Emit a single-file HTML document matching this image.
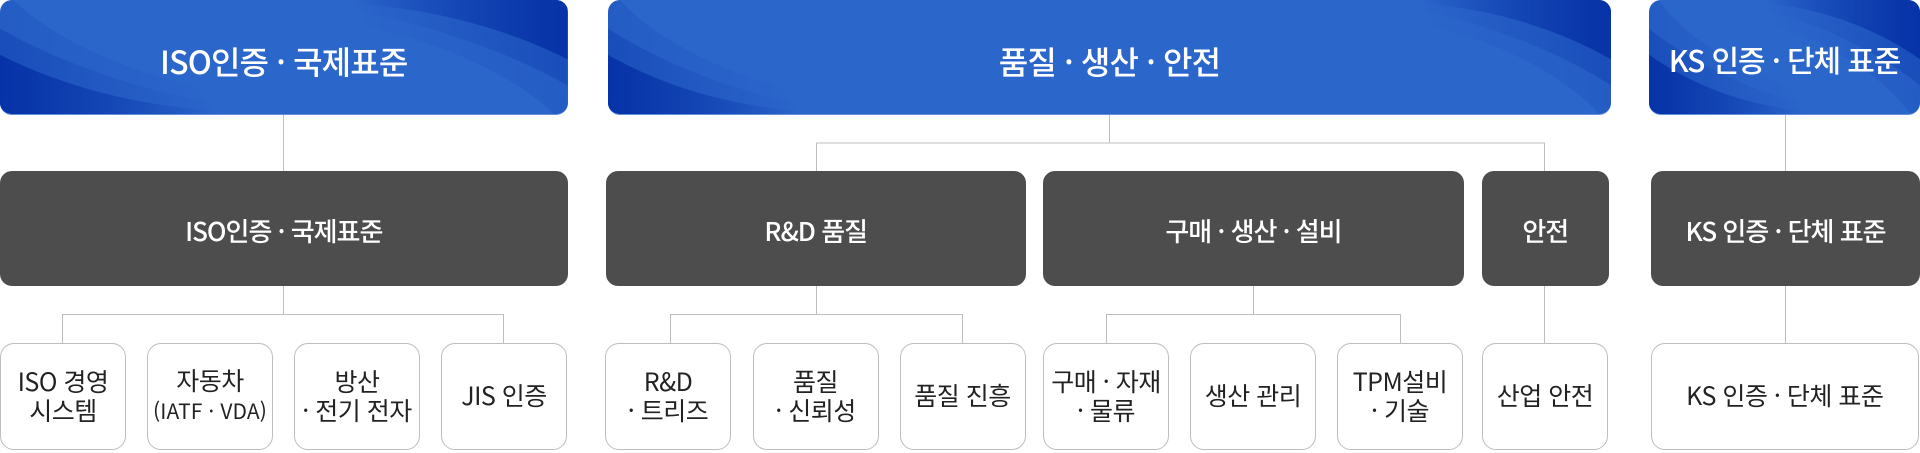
<!DOCTYPE html>
<html lang="ko"><head><meta charset="utf-8"><style>
html,body{margin:0;padding:0;background:#fff;width:1920px;height:453px;overflow:hidden}
body{position:relative;font-family:"Noto Sans CJK KR","Liberation Sans",sans-serif}
.a{position:absolute;box-sizing:border-box;display:flex;align-items:center;justify-content:center;text-align:center;white-space:nowrap}
.t{color:#fff;font-size:32px;font-weight:500;letter-spacing:-.85px;top:0;height:115px;padding-top:7px;border-radius:12px;overflow:hidden;background:#2b66cb;border-bottom:1px solid #5f8fdc}
.t svg{position:absolute;left:0;top:0;width:100%;height:100%}
.t span{position:relative}
.d{color:#fff;background:#4d4d4d;top:171px;height:115px;border-radius:12px;font-size:26px;font-weight:500;letter-spacing:-1px;padding-top:4px}
.l{background:#fff;border:1px solid #bdbdbd;top:342.5px;height:107px;border-radius:14px;font-size:25px;line-height:29px;color:#222;letter-spacing:-.5px;padding-bottom:1px}
.l small{font-size:21px;letter-spacing:.1px}
svg.c{position:absolute;left:0;top:0}
</style></head><body>
<svg width="0" height="0" style="position:absolute"><defs>
<linearGradient id="ga" gradientUnits="userSpaceOnUse" x1="0" x2="38" y1="0" y2="0"><stop offset="0" stop-color="#0430a5" stop-opacity=".18"/><stop offset="1" stop-color="#0430a5" stop-opacity="0"/></linearGradient>
<linearGradient id="gb" gradientUnits="userSpaceOnUse" x1="0" x2="38" y1="0" y2="0"><stop offset="0" stop-color="#0430a5" stop-opacity=".32"/><stop offset="1" stop-color="#0430a5" stop-opacity="0"/></linearGradient>
<linearGradient id="gc" gradientUnits="userSpaceOnUse" x1="0" x2="38" y1="0" y2="0"><stop offset="0" stop-color="#0430a5" stop-opacity=".9"/><stop offset="1" stop-color="#0430a5" stop-opacity="0"/></linearGradient>
<g id="L">
<path d="M2.4 0C8 28 20 60 35 76S55 90 62 100H0V0Z" fill="url(#ga)"/>
<path d="M0 25C8 48 20 72 34 87S50 98 58 100H0Z" fill="url(#gb)"/>
<path d="M0 48C8 68 18 85 30 93S42 99 50 100H0Z" fill="url(#gc)"/>
</g>
</defs></svg>

<svg class="c" width="1920" height="453" fill="none" stroke="#bdbdbd" stroke-width="1">
<path d="M283.5 115V171M283.5 286V314.5M62.5 343V314.5H503.5V343"/>
<path d="M1109.5 115V143M816.5 171V143H1544.5V171"/>
<path d="M816.5 286V314.5M670.5 343V314.5H962.5V343"/>
<path d="M1253.5 286V314.5M1106.5 343V314.5H1400.5V343"/>
<path d="M1544.5 286V343"/>
<path d="M1785.5 115V171M1785.5 286V343"/>
</svg>

<div class="a t" style="left:0;width:567.5px"><svg viewBox="0 0 100 100" preserveAspectRatio="none"><use href="#L"/><use href="#L" transform="translate(100 100) rotate(180)"/></svg><span>ISO인증 · 국제표준</span></div>
<div class="a t" style="left:608px;width:1003px"><svg viewBox="0 0 100 100" preserveAspectRatio="none"><use href="#L" transform="scale(.5 1)"/><use href="#L" transform="translate(100 100) rotate(180) scale(.5 1)"/></svg><span>품질 · 생산 · 안전</span></div>
<div class="a t" style="left:1649px;width:271px;font-size:30px;padding-top:4px;letter-spacing:-1.1px"><svg viewBox="0 0 100 100" preserveAspectRatio="none"><use href="#L" transform="scale(1.5 1)"/><use href="#L" transform="translate(100 100) rotate(180) scale(1.5 1)"/></svg><span>KS 인증 · 단체 표준</span></div>

<div class="a d" style="left:0;width:567.5px">ISO인증 · 국제표준</div>
<div class="a d" style="left:605.5px;width:420.5px">R&amp;D 품질</div>
<div class="a d" style="left:1043px;width:421px">구매 · 생산 · 설비</div>
<div class="a d" style="left:1482px;width:126.5px">안전</div>
<div class="a d" style="left:1651px;width:269px">KS 인증 · 단체 표준</div>

<div class="a l" style="left:0;width:126px">ISO 경영<br>시스템</div>
<div class="a l" style="left:147px;width:126px"><span>자동차<br><small>(IATF · VDA)</small></span></div>
<div class="a l" style="left:294px;width:126px">방산<br>· 전기 전자</div>
<div class="a l" style="left:441px;width:126px">JIS 인증</div>
<div class="a l" style="left:605px;width:126px">R&amp;D<br>· 트리즈</div>
<div class="a l" style="left:752.5px;width:126px">품질<br>· 신뢰성</div>
<div class="a l" style="left:899.5px;width:126px">품질 진흥</div>
<div class="a l" style="left:1043px;width:126px">구매 · 자재<br>· 물류</div>
<div class="a l" style="left:1190px;width:126px">생산 관리</div>
<div class="a l" style="left:1337px;width:126px">TPM설비<br>· 기술</div>
<div class="a l" style="left:1482px;width:126px">산업 안전</div>
<div class="a l" style="left:1650.5px;width:268.5px">KS 인증 · 단체 표준</div>
</body></html>
